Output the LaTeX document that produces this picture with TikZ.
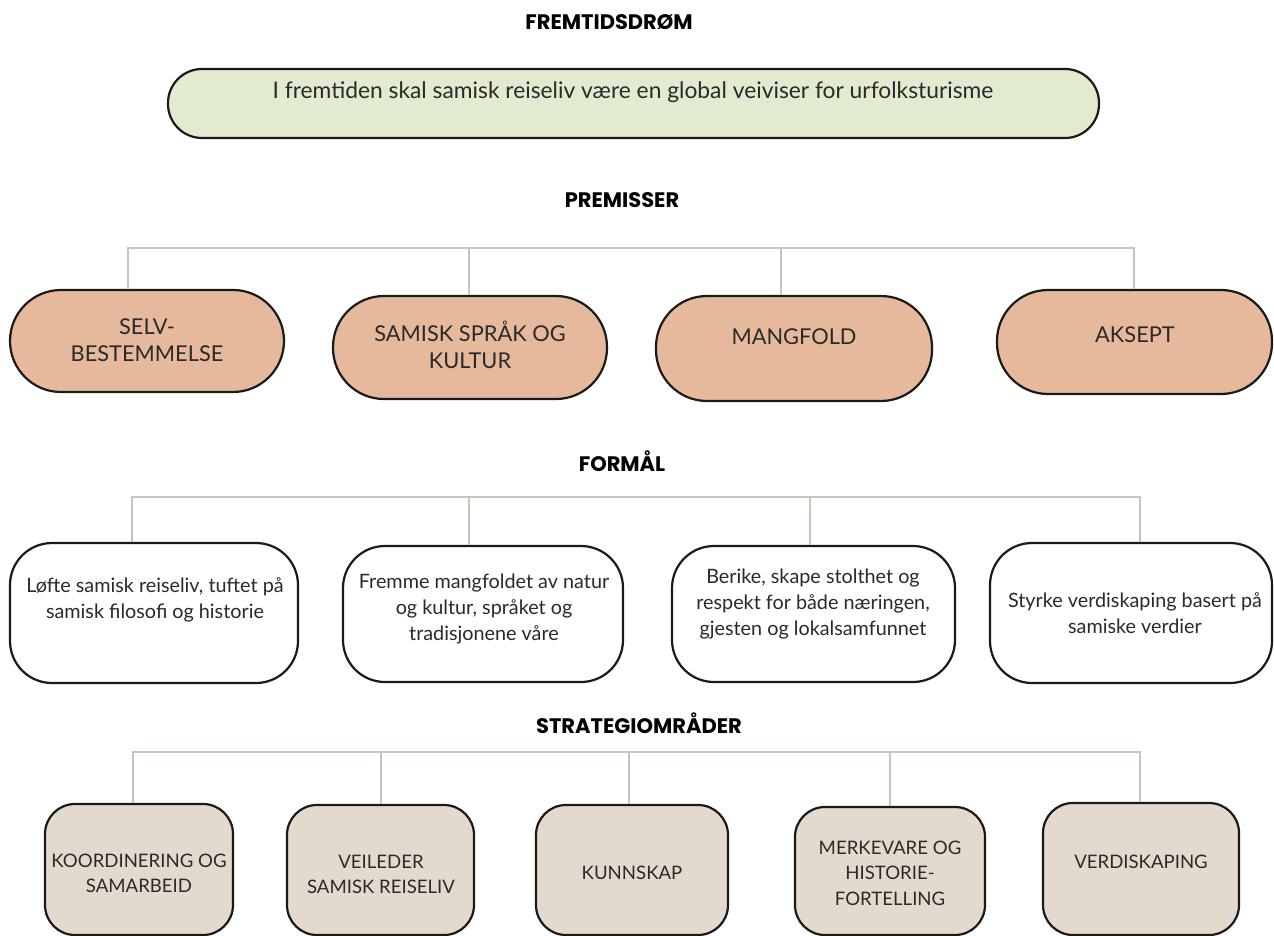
\documentclass[tikz,border=0pt]{standalone}
\usepackage{fontspec}
\setmainfont{Lato}
\newfontfamily\hdfont{Poppins}
\usetikzlibrary{positioning}
\definecolor{dreamfill}{HTML}{E2EBCF}
\definecolor{premfill}{HTML}{E6B89C}
\definecolor{stratfill}{HTML}{E3DACD}
\definecolor{busline}{HTML}{C6C7B8}
\definecolor{ink}{HTML}{2A2A2A}
\definecolor{edge}{HTML}{1A1A1A}
\tikzset{
  heading/.style={font=\hdfont\bfseries\fontsize{21}{24}\selectfont, text=black, inner sep=0pt},
  boxbase/.style={draw=edge, line width=2.2pt, inner sep=0pt},
  dreambox/.style={boxbase, fill=dreamfill, rounded corners=34pt},
  prembox/.style={boxbase, fill=premfill, rounded corners=51pt},
  purpbox/.style={boxbase, fill=white, rounded corners=42pt},
  stratbox/.style={boxbase, fill=stratfill, rounded corners=30pt},
  captext/.style={font=\fontsize{21.8}{27.5}\selectfont, text=ink, align=center, inner sep=0pt},
  bodytext/.style={font=\fontsize{19.8}{26}\selectfont, text=ink, align=center, inner sep=0pt},
  dreamtext/.style={font=\fontsize{22.8}{26}\selectfont, text=ink, inner sep=0pt},
  stext/.style={font=\fontsize{18.6}{25.5}\selectfont, text=ink, align=center, inner sep=0pt},
  bus/.style={draw=busline, line width=2.2pt},
}
\begin{document}
\begin{tikzpicture}[x=1pt,y=-1pt]
\useasboundingbox (0,0) rectangle (1274,936);
\clip (0,0) rectangle (1274,936);

% headings
\node[heading] (hdream) at (609,22) {FREMTIDSDRØM};
\node[heading] (hprem) at (622,200) {PREMISSER};
\node[heading] (hpurp) at (622,461) {FORMÅL};
\node[heading] (hstrat) at (639,723) {STRATEGIOMRÅDER};

% dream
\node[dreambox, minimum width=931pt, minimum height=69pt] (dream) at (633.5,103.5) {};
\node[dreamtext] (dreamt) at (633,92) {I fremtiden skal samisk reiseliv være en global veiviser for urfolksturisme};

% premisser bus
\coordinate (pb1) at (128,248);
\coordinate (pb2) at (469,248);
\coordinate (pb3) at (781,248);
\coordinate (pb4) at (1134,248);

\node[prembox, minimum width=274pt, minimum height=102pt] (p1) at (147,341) {};
\node[prembox, minimum width=274pt, minimum height=103pt] (p2) at (470,347.5) {};
\node[prembox, minimum width=276pt, minimum height=105pt] (p3) at (794,348.5) {};
\node[prembox, minimum width=275pt, minimum height=104pt] (p4) at (1134.5,342) {};

\draw[bus, line cap=rect] (pb1) -- (pb4);
\draw[bus] (pb1) -- (pb1 |- p1.north);
\draw[bus] (pb2) -- (pb2 |- p2.north);
\draw[bus] (pb3) -- (pb3 |- p3.north);
\draw[bus] (pb4) -- (pb4 |- p4.north);

\node[captext] (p1t) at (147,340) {SELV-\\BESTEMMELSE};
\node[captext] (p2t) at (470,345) {SAMISK SPRÅK OG\\KULTUR};
\node[captext] (p3t) at (794,337) {MANGFOLD};
\node[captext] (p4t) at (1135,335) {AKSEPT};

% formål
\coordinate (fb1) at (132,497);
\coordinate (fb2) at (469,497);
\coordinate (fb3) at (810,497);
\coordinate (fb4) at (1140,497);

\node[purpbox, minimum width=288pt, minimum height=140pt] (f1) at (154,613) {};
\node[purpbox, minimum width=280pt, minimum height=136pt] (f2) at (483,614) {};
\node[purpbox, minimum width=283pt, minimum height=136pt] (f3) at (813.5,614) {};
\node[purpbox, minimum width=282pt, minimum height=140pt] (f4) at (1131,613) {};

\draw[bus, line cap=rect] (fb1) -- (fb4);
\draw[bus] (fb1) -- (fb1 |- f1.north);
\draw[bus] (fb2) -- (fb2 |- f2.north);
\draw[bus] (fb3) -- (fb3 |- f3.north);
\draw[bus] (fb4) -- (fb4 |- f4.north);

\node[bodytext] (f1t) at (155,600) {Løfte samisk reiseliv, tuftet på\\samisk filosofi og historie};
\node[bodytext] (f2t) at (484,609) {Fremme mangfoldet av natur\\og kultur, språket og\\tradisjonene våre};
\node[bodytext] (f3t) at (813,604) {Berike, skape stolthet og\\respekt for både næringen,\\gjesten og lokalsamfunnet};
\node[bodytext] (f4t) at (1135,613) {Styrke verdiskaping basert på\\samiske verdier};

% strategiområder
\coordinate (sb1) at (133,752);
\coordinate (sb2) at (381,752);
\coordinate (sb3) at (629,752);
\coordinate (sb4) at (890,752);
\coordinate (sb5) at (1140,752);

\node[stratbox, minimum width=188pt, minimum height=131pt] (s1) at (139,869.5) {};
\node[stratbox, minimum width=187pt, minimum height=130pt] (s2) at (380.5,870) {};
\node[stratbox, minimum width=192pt, minimum height=130pt] (s3) at (632,870) {};
\node[stratbox, minimum width=190pt, minimum height=128pt] (s4) at (890,871) {};
\node[stratbox, minimum width=196pt, minimum height=132pt] (s5) at (1141,869) {};

\draw[bus, line cap=rect] (sb1) -- (sb5);
\draw[bus] (sb1) -- (sb1 |- s1.north);
\draw[bus] (sb2) -- (sb2 |- s2.north);
\draw[bus] (sb3) -- (sb3 |- s3.north);
\draw[bus] (sb4) -- (sb4 |- s4.north);
\draw[bus] (sb5) -- (sb5 |- s5.north);

\node[stext] (s1t) at (139,873.5) {KOORDINERING OG\\SAMARBEID};
\node[stext] (s2t) at (381,874.5) {VEILEDER\\SAMISK REISELIV};
\node[stext] (s3t) at (632,873) {KUNNSKAP};
\node[stext] (s4t) at (890,873) {MERKEVARE OG\\HISTORIE-\\FORTELLING};
\node[stext] (s5t) at (1141,862) {VERDISKAPING};
\end{tikzpicture}
\end{document}
